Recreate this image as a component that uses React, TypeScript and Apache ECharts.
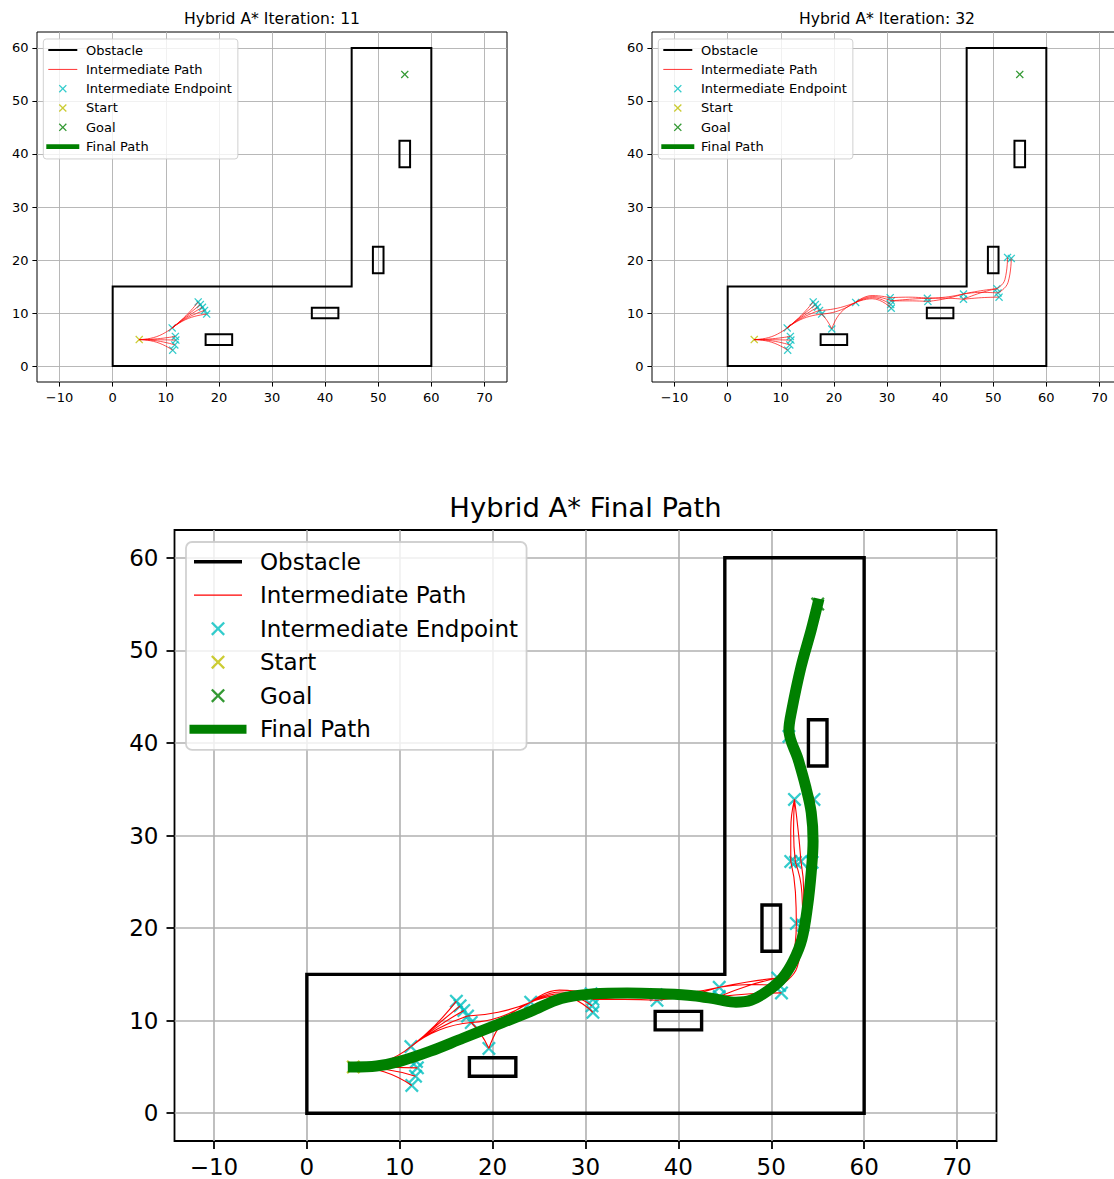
import React, { useEffect, useRef } from "react";
import * as echarts from "echarts";

// ---- Map geometry -------------------------------------------------------
const outerWall = [[0, 0], [60, 0], [60, 60], [45, 60], [45, 15], [0, 15], [0, 0]];
const blockA = [[17.5, 4], [22.5, 4], [22.5, 6], [17.5, 6], [17.5, 4]];
const blockB = [[37.5, 9], [42.5, 9], [42.5, 11], [37.5, 11], [37.5, 9]];
const blockC = [[49, 17.5], [51, 17.5], [51, 22.5], [49, 22.5], [49, 17.5]];
const blockD = [[54, 37.5], [56, 37.5], [56, 42.5], [54, 42.5], [54, 37.5]];

const startPoint = [[5, 5]];
const goalPoint = [[55, 55]];

// ---- Expansion primitives (parent -> middle -> child) --------------------
const arcsFromStart = [
  [[5, 5], [8.3, 5.56], [11.2, 7.2]],
  [[5, 5], [8.4, 5.15], [11.8, 5.6]],
  [[5, 5], [8.45, 4.97], [11.9, 4.9]],
  [[5, 5], [8.4, 4.75], [11.7, 4.0]],
  [[5, 5], [8.3, 4.49], [11.3, 3.0]],
];
const endpointsFromStart = [[11.2, 7.2], [11.8, 5.6], [11.9, 4.9], [11.7, 4.0], [11.3, 3.0]];

const arcsToCluster = [
  [[11.2, 7.2], [13.8, 9.5], [16.1, 12.1]],
  [[11.2, 7.2], [13.85, 9.4], [16.5, 11.6]],
  [[11.2, 7.2], [13.97, 9.27], [16.9, 11.1]],
  [[11.2, 7.2], [14.1, 9.13], [17.3, 10.5]],
  [[11.2, 7.2], [14.25, 8.99], [17.7, 9.8]],
];
const endpointsCluster = [[16.1, 12.1], [16.5, 11.6], [16.9, 11.1], [17.3, 10.5], [17.7, 9.8]];

const arcsCorridor = [
  [[17.7, 9.8], [18.7, 8.6], [19.6, 7.0]],
  [[24.1, 12.0], [21.3, 10.1], [19.6, 7.0]],
  [[17.7, 9.8], [20.8, 10.4], [24.1, 12.0]],
  [[17.3, 10.5], [20.6, 10.9], [24.1, 12.0]],
  [[24.1, 12.0], [27.2, 13.3], [30.6, 12.9]],
  [[24.1, 12.0], [27.3, 13.1], [30.8, 12.3]],
  [[24.1, 12.0], [27.3, 12.9], [30.7, 11.6]],
  [[24.1, 12.0], [27.2, 12.7], [30.8, 10.9]],
  [[30.6, 12.9], [34.1, 13.0], [37.6, 12.8]],
  [[30.8, 12.3], [34.2, 12.6], [37.6, 12.8]],
  [[30.8, 12.3], [34.2, 12.3], [37.7, 12.2]],
  [[37.6, 12.8], [41.0, 13.0], [44.4, 13.6]],
  [[37.6, 12.8], [41.0, 12.8], [44.4, 12.6]],
  [[37.7, 12.2], [41.0, 12.7], [44.4, 13.6]],
  [[44.4, 13.6], [47.6, 14.2], [50.7, 14.6]],
  [[44.4, 12.6], [47.6, 13.8], [50.7, 14.6]],
  [[44.4, 13.6], [47.7, 13.9], [50.9, 13.8]],
  [[44.4, 12.6], [47.8, 12.9], [51.1, 13.0]],
  [[50.7, 14.6], [52.2, 16.3], [52.7, 20.5]],
  [[50.9, 13.8], [52.8, 15.8], [53.4, 20.3]],
];
const endpointsCorridor = [
  [19.6, 7.0], [24.1, 12.0], [30.6, 12.9], [30.8, 12.3], [30.7, 11.6], [30.8, 10.9],
  [37.6, 12.8], [37.7, 12.2], [44.4, 13.6], [44.4, 12.6], [50.7, 14.6], [50.9, 13.8],
  [51.1, 13.0], [52.7, 20.5], [53.4, 20.3],
];

const arcsUpward = [
  [[52.7, 20.5], [52.6, 23.9], [52.1, 27.2]],
  [[53.4, 20.3], [53.3, 23.8], [52.6, 27.1]],
  [[53.4, 20.3], [53.5, 23.8], [53.2, 27.2]],
  [[53.4, 20.3], [54.1, 23.7], [54.4, 27.1]],
  [[52.6, 27.1], [52.4, 30.5], [52.5, 33.9]],
  [[52.1, 27.2], [52.1, 30.6], [52.5, 33.9]],
  [[53.2, 27.2], [52.9, 30.5], [52.5, 33.9]],
  [[54.4, 27.1], [54.7, 30.5], [54.6, 33.9]],
  [[54.6, 33.9], [53.3, 37.3], [51.9, 40.7]],
];
const endpointsUpward = [[52.1, 27.2], [52.6, 27.1], [53.2, 27.2], [54.4, 27.1], [52.5, 33.9], [54.6, 33.9], [51.9, 40.7]];

const finalPath = [
  [5, 5], [7.5, 5.1], [10, 5.6], [13.3, 6.7], [16.8, 8.1], [20.1, 9.4], [24.1, 11.0],
  [27.4, 12.4], [30.9, 12.9], [34.5, 13.0], [38.1, 12.9], [41.6, 12.7], [44.2, 12.3],
  [46.2, 12.0], [47.8, 12.2], [49.6, 13.2], [51.2, 14.6], [52.4, 16.5], [53.3, 18.8],
  [53.9, 22.3], [54.3, 26.0], [54.5, 29.4], [54.3, 32.5], [53.7, 35.3], [52.9, 38.2],
  [51.9, 41.4], [52.2, 43.5], [53.2, 48.2], [54.3, 52.2], [55, 55],
];

// ---- Axis ticks and labels ----------------------------------------------
const xTicks = [-10, 0, 10, 20, 30, 40, 50, 60, 70];
const yTicks = [0, 10, 20, 30, 40, 50, 60];
const panelTitles = ["Hybrid A* Iteration: 11", "Hybrid A* Iteration: 32", "Hybrid A* Final Path"];
const legendNames = ["Obstacle", "Intermediate Path", "Intermediate Endpoint", "Start", "Goal", "Final Path"];

// ---- Drawing helpers ----------------------------------------------------
const FONT = "DejaVu Sans";
const C_WALL = "#000000";
const C_ARC = "#ff0000";
const C_END = "#00bfbf";
const C_START = "#bfbf00";
const C_GOAL = "#008000";

function joinWithGaps(lines: number[][][]) {
  const out: (number | null)[][] = [];
  lines.forEach((l, i) => {
    if (i) out.push([null, null]);
    l.forEach((p) => out.push(p));
  });
  return out;
}

// filled "x" glyph centred at (cx, cy), half size h, corner cut a
function crossPath(cx: number, cy: number, h: number, a: number) {
  const p = [
    [cx - h, cy - h + a], [cx - h + a, cy - h], [cx, cy - a], [cx + h - a, cy - h],
    [cx + h, cy - h + a], [cx + a, cy], [cx + h, cy + h - a], [cx + h - a, cy + h],
    [cx, cy + a], [cx - h + a, cy + h], [cx - h, cy + h - a], [cx - a, cy],
  ];
  return "M" + p.map((q) => q[0] + "," + q[1]).join("L") + "Z";
}
function bar(x1: number, x2: number, cy: number, t: number) {
  const y1 = cy - t / 2, y2 = cy + t / 2;
  return `M${x1},${y1}L${x2},${y1}L${x2},${y2}L${x1},${y2}Z`;
}
// icon box anchored at both corners so the glyph keeps pixel placement
function boxIcon(W: number, H: number, body: string) {
  return `path://M0,0L0,0M${W},${H}L${W},${H}${body}`;
}

const xSymbol = "path://" + crossPath(10, 10, 10, 2.3);

const minus = (v: number) => (v < 0 ? "\u2212" + Math.abs(v) : String(v));

type Look = {
  font: number; titleFont: number; frame: number; tick: number; margin: number; labelLH: number;
  gridW: number; wallW: number; arcW: number; mark: number; finalW: number;
  legend: { left: number; top: number; padding: number[]; W: number; H: number; gap: number;
    lx1: number; lx2: number; cx: number; fx1: number; fx2: number; half: number; cut: number;
    wallT: number; arcT: number; finalT: number; radius: number; };
};

const smallLook = (gridLeft: number): Look => ({
  font: 13, titleFont: 15.6, frame: 1, tick: 4.6, margin: 8.5, labelLH: 14,
  gridW: 0.9, wallW: 2, arcW: 0.7, mark: 8, finalW: 6,
  legend: { left: gridLeft + 6.3, top: 39, padding: [3.5, 6, 4.8, 1.2], W: 36.5, H: 15, gap: 4.33,
    lx1: 3.8, lx2: 32.8, cx: 18.3, fx1: 1.8, fx2: 34.8, half: 4, cut: 0.92,
    wallT: 2, arcT: 0.8, finalT: 4.8, radius: 3 },
});
const largeLook: Look = {
  font: 23, titleFont: 27.4, frame: 1.8, tick: 8, margin: 16, labelLH: 20,
  gridW: 1.6, wallW: 3.4, arcW: 1.1, mark: 14, finalW: 11,
  legend: { left: 186, top: 542, padding: [6.7, 8.5, 7.7, 2], W: 67, H: 26, gap: 7.5,
    lx1: 6, lx2: 54, cx: 30, fx1: 1.5, fx2: 58.5, half: 7, cut: 1.63,
    wallT: 3.4, arcT: 1.2, finalT: 9, radius: 6 },
};

const panels = [
  {
    grid: { left: 37, top: 32, width: 470, height: 350 }, titleY: 19, look: smallLook(37),
    arcs: [...arcsFromStart, ...arcsToCluster],
    ends: [...endpointsFromStart, ...endpointsCluster], withFinal: false,
  },
  {
    grid: { left: 652, top: 32, width: 470, height: 350 }, titleY: 19, look: smallLook(652),
    arcs: [...arcsFromStart, ...arcsToCluster, ...arcsCorridor],
    ends: [...endpointsFromStart, ...endpointsCluster, ...endpointsCorridor], withFinal: false,
  },
  {
    grid: { left: 174.5, top: 530, width: 822, height: 611 }, titleY: 507, look: largeLook,
    arcs: [...arcsFromStart, ...arcsToCluster, ...arcsCorridor, ...arcsUpward],
    ends: [...endpointsFromStart, ...endpointsCluster, ...endpointsCorridor, ...endpointsUpward], withFinal: true,
  },
];

function buildOption() {
  const grid: any[] = [];
  const xAxis: any[] = [];
  const yAxis: any[] = [];
  const title: any[] = [];
  const legend: any[] = [];
  const series: any[] = [];

  panels.forEach((p, i) => {
    const L = p.look;
    grid.push({
      ...p.grid, show: true, backgroundColor: "#fff", borderColor: "#000",
      borderWidth: L.frame, containLabel: false, outerBoundsMode: "none",
    });
    const axisCommon = (ticks: number[]) => ({
      type: "value",
      gridIndex: i,
      axisLine: { show: false, onZero: false },
      axisTick: { show: true, inside: false, length: L.tick, customValues: ticks, lineStyle: { color: "#000", width: L.frame } },
      axisLabel: {
        customValues: ticks, margin: L.margin, fontSize: L.font, fontFamily: FONT, color: "#000",
        lineHeight: L.labelLH, formatter: minus, hideOverlap: false,
      },
      splitLine: { show: true, lineStyle: { color: "#b0b0b0", width: L.gridW } },
    });
    xAxis.push({ ...axisCommon(xTicks), min: -14.25, max: 74.25, position: "bottom" });
    yAxis.push({ ...axisCommon(yTicks), min: -3, max: 63, position: "left" });

    title.push({
      text: panelTitles[i],
      left: p.grid.left + p.grid.width / 2,
      top: p.titleY,
      textAlign: "center",
      textVerticalAlign: "middle",
      padding: 0,
      textStyle: { fontFamily: FONT, fontSize: L.titleFont, fontWeight: "normal", color: "#000" },
    });

    const g = L.legend;
    const mid = g.H / 2;
    const icons: Record<string, string> = {
      Obstacle: boxIcon(g.W, g.H, bar(g.lx1, g.lx2, mid, g.wallT)),
      "Intermediate Path": boxIcon(g.W, g.H, bar(g.lx1, g.lx2, mid, g.arcT)),
      "Intermediate Endpoint": boxIcon(g.W, g.H, crossPath(g.cx, mid, g.half, g.cut)),
      Start: boxIcon(g.W, g.H, crossPath(g.cx, mid, g.half, g.cut)),
      Goal: boxIcon(g.W, g.H, crossPath(g.cx, mid, g.half, g.cut)),
      "Final Path": boxIcon(g.W, g.H, bar(g.fx1, g.fx2, mid, g.finalT)),
    };
    legend.push({
      orient: "vertical",
      left: g.left,
      top: g.top,
      padding: g.padding,
      itemWidth: g.W,
      itemHeight: g.H,
      itemGap: g.gap,
      align: "left",
      selectedMode: false,
      symbolKeepAspect: true,
      backgroundColor: "rgba(255,255,255,0.8)",
      borderColor: "rgba(204,204,204,0.9)",
      borderWidth: L.frame,
      borderRadius: g.radius,
      itemStyle: { borderWidth: 0 },
      textStyle: { fontFamily: FONT, fontSize: L.font, color: "#000", lineHeight: g.H },
      data: legendNames.map((n) => ({ name: n, icon: icons[n] })),
    });

    const common = { xAxisIndex: i, yAxisIndex: i, silent: true, animation: false, emphasis: { disabled: true } };
    series.push({
      ...common, type: "line", name: "Obstacle", color: C_WALL,
      data: joinWithGaps([outerWall, blockA, blockB, blockC, blockD]),
      symbol: "none", showSymbol: false, connectNulls: false,
      lineStyle: { color: C_WALL, width: L.wallW, join: "miter", cap: "square" },
    });
    series.push({
      ...common, type: "line", name: "Intermediate Path", color: C_ARC,
      data: joinWithGaps(p.arcs), smooth: true,
      symbol: "none", showSymbol: false, connectNulls: false,
      lineStyle: { color: C_ARC, width: L.arcW },
    });
    series.push({
      ...common, type: "scatter", name: "Intermediate Endpoint", color: C_END,
      data: p.ends, symbol: xSymbol, symbolSize: L.mark, itemStyle: { color: C_END },
    });
    series.push({
      ...common, type: "scatter", name: "Start", color: C_START,
      data: startPoint, symbol: xSymbol, symbolSize: L.mark, itemStyle: { color: C_START },
    });
    series.push({
      ...common, type: "scatter", name: "Goal", color: C_GOAL,
      data: goalPoint, symbol: xSymbol, symbolSize: L.mark, itemStyle: { color: C_GOAL },
    });
    if (p.withFinal) {
      series.push({
        ...common, type: "line", name: "Final Path", color: C_GOAL,
        data: finalPath, smooth: 0.35, symbol: "none", showSymbol: false,
        lineStyle: { color: C_GOAL, width: L.finalW, cap: "square", join: "round" },
      });
    }
  });

  return {
    animation: false,
    backgroundColor: "#ffffff",
    textStyle: { fontFamily: FONT },
    tooltip: { show: false },
    grid, xAxis, yAxis, title, legend, series,
  };
}

export default function App() {
  const ref = useRef<HTMLDivElement>(null);
  useEffect(() => {
    if (!ref.current) return;
    const chart = echarts.init(ref.current, null, { renderer: "svg" });
    chart.setOption(buildOption() as any);
    return () => chart.dispose();
  }, []);
  return (
    <div
      ref={ref}
      style={{ position: "absolute", left: 0, top: 0, width: 1114, height: 1179, background: "#fff" }}
    />
  );
}
